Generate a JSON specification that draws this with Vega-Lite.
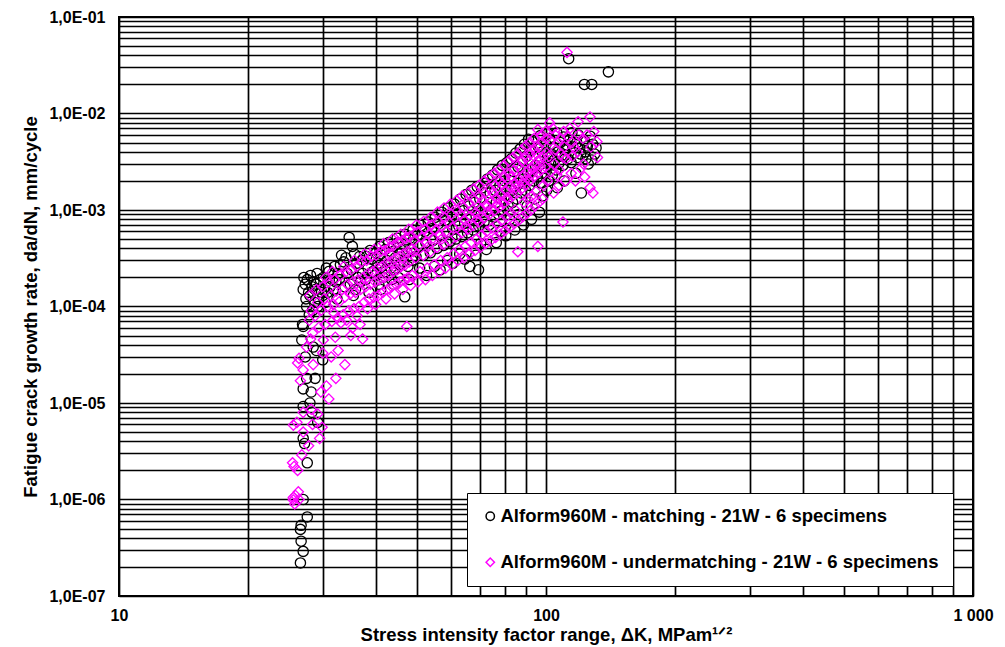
{
 "$schema": "https://vega.github.io/schema/vega-lite/v6.json",
 "width": 854,
 "height": 579,
 "autosize": "none",
 "padding": {"left": 119, "top": 17, "right": 32, "bottom": 51},
 "background": "white",
 "config": {
  "view": {"stroke": "black", "strokeWidth": 2},
  "font": "Liberation Sans",
  "axis": {
   "grid": true, "gridColor": "black", "gridOpacity": 1, "gridWidth": 1.7,
   "ticks": false, "tickSize": 0, "domain": false,
   "labelFont": "Liberation Sans", "labelFontSize": 16, "labelFontWeight": "bold", "labelColor": "black",
   "labelOverlap": false, "labelFlush": false,
   "titleFont": "Liberation Sans", "titleFontSize": 18.5, "titleFontWeight": "bold", "titleColor": "black"
  }
 },
 "data": {"values": [
{"s":"matching","k":26.6,"r":2.2e-7},{"s":"matching","k":27.0,"r":2.9e-7},{"s":"matching","k":26.7,"r":3.7e-7},{"s":"matching","k":26.6,"r":4.9e-7},{"s":"matching","k":26.7,"r":5.4e-7},{"s":"matching","k":27.6,"r":6.6e-7},{"s":"matching","k":27.0,"r":1.0e-6},{"s":"matching","k":27.6,"r":2.4e-6},{"s":"matching","k":27.2,"r":3.8e-6},{"s":"matching","k":27.0,"r":4.3e-6},{"s":"matching","k":29.2,"r":6.3e-6},{"s":"matching","k":28.3,"r":8.0e-6},{"s":"matching","k":27.0,"r":9.2e-6},{"s":"matching","k":28.0,"r":1.0e-5},{"s":"matching","k":28.2,"r":1.3e-5},{"s":"matching","k":27.0,"r":1.4e-5},{"s":"matching","k":28.8,"r":1.8e-5},{"s":"matching","k":27.5,"r":1.8e-5},{"s":"matching","k":30.0,"r":2.8e-5},{"s":"matching","k":27.3,"r":3.0e-5},{"s":"matching","k":29.0,"r":3.5e-5},{"s":"matching","k":28.5,"r":3.8e-5},{"s":"matching","k":26.8,"r":4.5e-5},{"s":"matching","k":27.0,"r":6.2e-5},{"s":"matching","k":26.9,"r":6.5e-5},
{"s":"matching","k":27.1,"r":2.0e-4},{"s":"matching","k":27.3,"r":1.7e-4},{"s":"matching","k":27.0,"r":1.5e-4},{"s":"matching","k":27.4,"r":1.2e-4},{"s":"matching","k":27.6,"r":1.9e-4},{"s":"matching","k":27.8,"r":1.4e-4},{"s":"matching","k":27.5,"r":1.0e-4},{"s":"matching","k":27.9,"r":8.2e-5},{"s":"matching","k":28.1,"r":2.1e-4},{"s":"matching","k":28.3,"r":1.6e-4},{"s":"matching","k":28.0,"r":1.3e-4},{"s":"matching","k":28.4,"r":9.1e-5},{"s":"matching","k":28.6,"r":1.8e-4},{"s":"matching","k":28.8,"r":1.5e-4},{"s":"matching","k":28.7,"r":1.1e-4},{"s":"matching","k":29.1,"r":2.2e-4},{"s":"matching","k":29.0,"r":1.7e-4},{"s":"matching","k":29.3,"r":1.2e-4},{"s":"matching","k":29.2,"r":1.0e-4},{"s":"matching","k":29.6,"r":1.9e-4},{"s":"matching","k":29.8,"r":1.4e-4},{"s":"matching","k":30.1,"r":2.0e-4},{"s":"matching","k":30.3,"r":1.5e-4},{"s":"matching","k":30.0,"r":1.3e-4},{"s":"matching","k":30.4,"r":1.1e-4},{"s":"matching","k":31.0,"r":2.3e-4},{"s":"matching","k":31.2,"r":1.6e-4},{"s":"matching","k":30.8,"r":1.4e-4},{"s":"matching","k":32.0,"r":2.6e-4},{"s":"matching","k":32.2,"r":1.8e-4},{"s":"matching","k":31.8,"r":1.5e-4},{"s":"matching","k":32.4,"r":1.2e-4},{"s":"matching","k":33.0,"r":2.7e-4},{"s":"matching","k":33.2,"r":3.4e-4},{"s":"matching","k":32.8,"r":1.9e-4},{"s":"matching","k":34.0,"r":3.2e-4},{"s":"matching","k":34.2,"r":2.2e-4},{"s":"matching","k":33.8,"r":1.6e-4},{"s":"matching","k":34.6,"r":5.2e-4},{"s":"matching","k":35.2,"r":4.2e-4},{"s":"matching","k":35.0,"r":2.4e-4},{"s":"matching","k":34.8,"r":1.7e-4},{"s":"matching","k":35.4,"r":1.3e-4},{"s":"matching","k":36.0,"r":2.8e-4},{"s":"matching","k":36.3,"r":2.0e-4},{"s":"matching","k":35.8,"r":1.5e-4},{"s":"matching","k":37.0,"r":3.0e-4},{"s":"matching","k":37.2,"r":2.2e-4},{"s":"matching","k":36.8,"r":1.8e-4},{"s":"matching","k":38.0,"r":3.3e-4},{"s":"matching","k":38.3,"r":2.5e-4},{"s":"matching","k":37.8,"r":1.9e-4},{"s":"matching","k":38.5,"r":1.4e-4},{"s":"matching","k":39.0,"r":3.1e-4},{"s":"matching","k":39.3,"r":2.3e-4},{"s":"matching","k":40.0,"r":3.6e-4},{"s":"matching","k":40.4,"r":2.8e-4},{"s":"matching","k":39.8,"r":2.1e-4},{"s":"matching","k":40.6,"r":1.7e-4},{"s":"matching","k":41.0,"r":3.5e-4},{"s":"matching","k":41.3,"r":2.6e-4},{"s":"matching","k":41.5,"r":2.0e-4},{"s":"matching","k":42.0,"r":3.9e-4},{"s":"matching","k":42.4,"r":3.0e-4},{"s":"matching","k":42.2,"r":2.3e-4},{"s":"matching","k":43.0,"r":3.4e-4},{"s":"matching","k":43.3,"r":2.5e-4},{"s":"matching","k":43.5,"r":1.9e-4},{"s":"matching","k":44.0,"r":4.2e-4},{"s":"matching","k":44.4,"r":3.2e-4},{"s":"matching","k":44.2,"r":2.4e-4},{"s":"matching","k":45.0,"r":4.6e-4},{"s":"matching","k":45.3,"r":3.5e-4},{"s":"matching","k":45.5,"r":2.7e-4},{"s":"matching","k":45.1,"r":2.0e-4},{"s":"matching","k":46.0,"r":3.8e-4},{"s":"matching","k":46.4,"r":2.9e-4},{"s":"matching","k":47.0,"r":4.9e-4},{"s":"matching","k":47.2,"r":3.6e-4},{"s":"matching","k":47.5,"r":2.6e-4},{"s":"matching","k":46.7,"r":1.26e-4},{"s":"matching","k":48.0,"r":5.1e-4},{"s":"matching","k":48.4,"r":3.9e-4},{"s":"matching","k":48.6,"r":3.0e-4},{"s":"matching","k":50.0,"r":5.5e-4},{"s":"matching","k":50.3,"r":4.2e-4},{"s":"matching","k":49.6,"r":3.3e-4},{"s":"matching","k":50.6,"r":2.5e-4},{"s":"matching","k":52.0,"r":6.0e-4},{"s":"matching","k":52.3,"r":4.6e-4},{"s":"matching","k":51.7,"r":3.4e-4},{"s":"matching","k":54.0,"r":6.4e-4},{"s":"matching","k":54.3,"r":4.8e-4},{"s":"matching","k":53.6,"r":3.6e-4},{"s":"matching","k":54.8,"r":2.6e-4},{"s":"matching","k":56.0,"r":7.2e-4},{"s":"matching","k":56.4,"r":5.4e-4},{"s":"matching","k":55.6,"r":4.0e-4},{"s":"matching","k":58.0,"r":7.8e-4},{"s":"matching","k":58.5,"r":5.8e-4},{"s":"matching","k":57.6,"r":4.3e-4},{"s":"matching","k":58.8,"r":3.0e-4},{"s":"matching","k":60.0,"r":8.5e-4},{"s":"matching","k":60.5,"r":6.3e-4},{"s":"matching","k":59.6,"r":4.7e-4},{"s":"matching","k":62.0,"r":9.0e-4},{"s":"matching","k":62.5,"r":6.8e-4},{"s":"matching","k":61.5,"r":5.0e-4},{"s":"matching","k":62.8,"r":3.5e-4},{"s":"matching","k":64.0,"r":9.8e-4},{"s":"matching","k":64.5,"r":7.3e-4},{"s":"matching","k":63.5,"r":5.3e-4},{"s":"matching","k":66.0,"r":1.1e-3},{"s":"matching","k":66.5,"r":8.0e-4},{"s":"matching","k":65.5,"r":5.8e-4},{"s":"matching","k":66.3,"r":2.6e-4},{"s":"matching","k":68.0,"r":1.2e-3},{"s":"matching","k":68.6,"r":8.6e-4},{"s":"matching","k":67.5,"r":6.2e-4},{"s":"matching","k":69.5,"r":2.4e-4},{"s":"matching","k":70.0,"r":1.3e-3},{"s":"matching","k":71.0,"r":1.7e-3},{"s":"matching","k":70.6,"r":9.4e-4},{"s":"matching","k":69.6,"r":6.8e-4},{"s":"matching","k":70.3,"r":4.5e-4},{"s":"matching","k":72.0,"r":1.9e-3},{"s":"matching","k":72.5,"r":1.1e-3},{"s":"matching","k":71.6,"r":7.5e-4},{"s":"matching","k":74.0,"r":1.5e-3},{"s":"matching","k":74.5,"r":1.0e-3},{"s":"matching","k":73.6,"r":7.0e-4},{"s":"matching","k":76.0,"r":1.6e-3},{"s":"matching","k":76.5,"r":1.2e-3},{"s":"matching","k":75.5,"r":8.4e-4},{"s":"matching","k":78.0,"r":1.8e-3},{"s":"matching","k":78.6,"r":1.3e-3},{"s":"matching","k":77.5,"r":9.0e-4},{"s":"matching","k":78.3,"r":6.0e-4},{"s":"matching","k":80.0,"r":2.0e-3},{"s":"matching","k":80.6,"r":1.4e-3},{"s":"matching","k":79.5,"r":1.0e-3},{"s":"matching","k":82.0,"r":2.2e-3},{"s":"matching","k":82.6,"r":1.6e-3},{"s":"matching","k":81.5,"r":1.1e-3},{"s":"matching","k":82.3,"r":8.0e-4},{"s":"matching","k":84.0,"r":2.5e-3},{"s":"matching","k":84.6,"r":1.7e-3},{"s":"matching","k":83.5,"r":1.2e-3},{"s":"matching","k":86.0,"r":2.8e-3},{"s":"matching","k":86.6,"r":1.9e-3},{"s":"matching","k":85.5,"r":1.3e-3},{"s":"matching","k":86.3,"r":9.0e-4},{"s":"matching","k":88.0,"r":3.2e-3},{"s":"matching","k":88.6,"r":2.1e-3},{"s":"matching","k":87.5,"r":1.5e-3},{"s":"matching","k":90.0,"r":3.6e-3},{"s":"matching","k":90.6,"r":2.4e-3},{"s":"matching","k":89.5,"r":1.6e-3},{"s":"matching","k":90.3,"r":1.1e-3},{"s":"matching","k":92.0,"r":4.2e-3},{"s":"matching","k":92.6,"r":2.6e-3},{"s":"matching","k":91.5,"r":1.8e-3},{"s":"matching","k":93.0,"r":5.1e-3},{"s":"matching","k":94.5,"r":2.9e-3},{"s":"matching","k":93.6,"r":2.0e-3},{"s":"matching","k":94.2,"r":1.3e-3},{"s":"matching","k":96.0,"r":4.5e-3},{"s":"matching","k":96.6,"r":3.2e-3},{"s":"matching","k":95.5,"r":2.2e-3},{"s":"matching","k":98.0,"r":4.0e-3},{"s":"matching","k":98.6,"r":2.7e-3},{"s":"matching","k":97.5,"r":1.9e-3},{"s":"matching","k":98.3,"r":1.4e-3},{"s":"matching","k":100.0,"r":4.8e-3},{"s":"matching","k":100.8,"r":3.5e-3},{"s":"matching","k":99.5,"r":2.4e-3},{"s":"matching","k":100.4,"r":1.6e-3},{"s":"matching","k":102.0,"r":5.5e-3},{"s":"matching","k":102.6,"r":3.0e-3},{"s":"matching","k":101.5,"r":2.0e-3},{"s":"matching","k":104.0,"r":4.5e-3},{"s":"matching","k":104.6,"r":3.3e-3},{"s":"matching","k":103.5,"r":2.3e-3},{"s":"matching","k":106.0,"r":6.3e-3},{"s":"matching","k":106.6,"r":4.0e-3},{"s":"matching","k":105.5,"r":2.6e-3},{"s":"matching","k":106.3,"r":1.7e-3},{"s":"matching","k":108.0,"r":5.0e-3},{"s":"matching","k":108.6,"r":3.6e-3},{"s":"matching","k":110.0,"r":5.7e-3},{"s":"matching","k":110.6,"r":4.2e-3},{"s":"matching","k":109.5,"r":2.9e-3},{"s":"matching","k":110.3,"r":2.0e-3},{"s":"matching","k":112.0,"r":4.7e-3},{"s":"matching","k":112.6,"r":3.4e-3},{"s":"matching","k":115.0,"r":6.3e-3},{"s":"matching","k":115.6,"r":4.5e-3},{"s":"matching","k":114.5,"r":3.1e-3},{"s":"matching","k":118.0,"r":5.0e-3},{"s":"matching","k":118.6,"r":3.5e-3},{"s":"matching","k":117.5,"r":2.4e-3},{"s":"matching","k":120.0,"r":4.4e-3},{"s":"matching","k":120.6,"r":3.8e-3},{"s":"matching","k":121.0,"r":1.5e-3},{"s":"matching","k":123.0,"r":5.2e-3},{"s":"matching","k":123.6,"r":4.0e-3},{"s":"matching","k":125.0,"r":4.6e-3},{"s":"matching","k":125.6,"r":3.0e-3},{"s":"matching","k":128.0,"r":3.3e-3},{"s":"matching","k":128.6,"r":4.8e-3},{"s":"matching","k":130.0,"r":3.8e-3},{"s":"matching","k":113.0,"r":3.7e-2},{"s":"matching","k":123.0,"r":2.0e-2},{"s":"matching","k":128.0,"r":2.0e-2},{"s":"matching","k":140.0,"r":2.7e-2},
{"s":"matching","k":30.6,"r":2.5e-4},{"s":"matching","k":31.6,"r":1.9e-4},{"s":"matching","k":32.6,"r":2.2e-4},{"s":"matching","k":33.6,"r":2.9e-4},{"s":"matching","k":35.6,"r":3.5e-4},{"s":"matching","k":36.6,"r":3.3e-4},{"s":"matching","k":38.7,"r":3.8e-4},{"s":"matching","k":40.8,"r":4.2e-4},{"s":"matching","k":42.8,"r":4.6e-4},{"s":"matching","k":44.8,"r":5.1e-4},{"s":"matching","k":46.8,"r":5.6e-4},{"s":"matching","k":48.8,"r":6.2e-4},{"s":"matching","k":51.0,"r":6.9e-4},{"s":"matching","k":53.0,"r":7.5e-4},{"s":"matching","k":55.0,"r":8.4e-4},{"s":"matching","k":57.0,"r":9.5e-4},{"s":"matching","k":59.0,"r":1.05e-3},{"s":"matching","k":61.0,"r":1.15e-3},{"s":"matching","k":63.0,"r":1.3e-3},{"s":"matching","k":65.0,"r":1.45e-3},{"s":"matching","k":67.0,"r":1.6e-3},{"s":"matching","k":69.0,"r":1.75e-3},{"s":"matching","k":73.0,"r":2.1e-3},{"s":"matching","k":75.0,"r":2.3e-3},{"s":"matching","k":77.0,"r":2.6e-3},{"s":"matching","k":79.0,"r":2.9e-3},{"s":"matching","k":81.0,"r":3.1e-3},{"s":"matching","k":83.0,"r":3.4e-3},{"s":"matching","k":85.0,"r":3.9e-3},{"s":"matching","k":87.0,"r":4.3e-3},{"s":"matching","k":89.0,"r":4.8e-3},{"s":"matching","k":91.0,"r":5.4e-3},{"s":"matching","k":97.0,"r":5.9e-3},{"s":"matching","k":101.0,"r":6.2e-3},{"s":"matching","k":103.0,"r":3.8e-3},{"s":"matching","k":107.0,"r":3.0e-3},{"s":"matching","k":111.0,"r":3.7e-3},{"s":"matching","k":113.5,"r":5.3e-3},{"s":"matching","k":116.5,"r":3.9e-3},{"s":"matching","k":119.0,"r":6.0e-3},{"s":"matching","k":124.0,"r":3.4e-3},{"s":"matching","k":127.0,"r":5.8e-3},{"s":"matching","k":131.0,"r":4.4e-3},{"s":"matching","k":52.5,"r":2.1e-4},{"s":"matching","k":56.5,"r":2.4e-4},{"s":"matching","k":60.5,"r":2.8e-4},{"s":"matching","k":64.5,"r":3.1e-4},{"s":"matching","k":68.5,"r":3.4e-4},{"s":"matching","k":72.5,"r":3.9e-4},{"s":"matching","k":76.5,"r":4.6e-4},{"s":"matching","k":80.5,"r":5.4e-4},{"s":"matching","k":84.5,"r":6.2e-4},{"s":"matching","k":88.5,"r":7.0e-4},{"s":"matching","k":92.5,"r":8.0e-4},{"s":"matching","k":96.5,"r":9.5e-4},{"s":"matching","k":41.0,"r":1.5e-4},{"s":"matching","k":44.0,"r":1.7e-4},{"s":"matching","k":47.8,"r":1.9e-4},
{"s":"undermatching","k":25.6,"r":9.9e-7},{"s":"undermatching","k":25.9,"r":1.1e-6},{"s":"undermatching","k":25.8,"r":9.0e-7},{"s":"undermatching","k":26.3,"r":1.2e-6},{"s":"undermatching","k":26.4,"r":1.0e-6},{"s":"undermatching","k":25.6,"r":1.05e-6},{"s":"undermatching","k":25.5,"r":2.4e-6},{"s":"undermatching","k":26.2,"r":2.0e-6},{"s":"undermatching","k":26.8,"r":2.9e-6},{"s":"undermatching","k":25.7,"r":2.2e-6},{"s":"undermatching","k":25.6,"r":5.9e-6},{"s":"undermatching","k":27.0,"r":5.0e-6},{"s":"undermatching","k":27.8,"r":3.6e-6},{"s":"undermatching","k":26.1,"r":6.3e-6},{"s":"undermatching","k":27.0,"r":8.0e-6},{"s":"undermatching","k":28.2,"r":8.6e-6},{"s":"undermatching","k":29.2,"r":7.7e-6},{"s":"undermatching","k":28.4,"r":6.0e-6},{"s":"undermatching","k":29.9,"r":5.6e-6},{"s":"undermatching","k":29.5,"r":4.3e-6},{"s":"undermatching","k":26.2,"r":2.6e-5},{"s":"undermatching","k":27.0,"r":2.2e-5},{"s":"undermatching","k":28.5,"r":2.5e-5},{"s":"undermatching","k":31.4,"r":3.0e-5},{"s":"undermatching","k":32.2,"r":1.8e-5},{"s":"undermatching","k":33.8,"r":2.5e-5},{"s":"undermatching","k":30.6,"r":1.5e-5},{"s":"undermatching","k":29.7,"r":1.3e-5},{"s":"undermatching","k":31.0,"r":1.1e-5},{"s":"undermatching","k":26.6,"r":1.7e-5},{"s":"undermatching","k":27.5,"r":3.8e-5},{"s":"undermatching","k":28.1,"r":4.6e-5},{"s":"undermatching","k":26.4,"r":2.9e-5},{"s":"undermatching","k":30.0,"r":3.3e-5},{"s":"undermatching","k":32.6,"r":3.5e-5},
{"s":"undermatching","k":28.0,"r":1.3e-4},{"s":"undermatching","k":28.2,"r":9.0e-5},{"s":"undermatching","k":27.9,"r":7.2e-5},{"s":"undermatching","k":28.4,"r":5.3e-5},{"s":"undermatching","k":29.0,"r":1.5e-4},{"s":"undermatching","k":29.2,"r":1.1e-4},{"s":"undermatching","k":28.8,"r":8.0e-5},{"s":"undermatching","k":29.4,"r":6.1e-5},{"s":"undermatching","k":30.0,"r":1.6e-4},{"s":"undermatching","k":30.2,"r":1.2e-4},{"s":"undermatching","k":29.8,"r":9.2e-5},{"s":"undermatching","k":30.4,"r":6.5e-5},{"s":"undermatching","k":30.1,"r":4.5e-5},{"s":"undermatching","k":31.0,"r":1.8e-4},{"s":"undermatching","k":31.3,"r":1.3e-4},{"s":"undermatching","k":30.8,"r":1.0e-4},{"s":"undermatching","k":31.5,"r":7.0e-5},{"s":"undermatching","k":32.0,"r":1.9e-4},{"s":"undermatching","k":32.3,"r":1.45e-4},{"s":"undermatching","k":31.8,"r":1.05e-4},{"s":"undermatching","k":32.5,"r":7.6e-5},{"s":"undermatching","k":32.1,"r":4.8e-5},{"s":"undermatching","k":33.0,"r":2.1e-4},{"s":"undermatching","k":33.3,"r":1.5e-4},{"s":"undermatching","k":32.8,"r":1.12e-4},{"s":"undermatching","k":33.5,"r":8.2e-5},{"s":"undermatching","k":34.0,"r":2.3e-4},{"s":"undermatching","k":34.3,"r":1.7e-4},{"s":"undermatching","k":33.8,"r":1.25e-4},{"s":"undermatching","k":34.5,"r":9.0e-5},{"s":"undermatching","k":35.0,"r":2.4e-4},{"s":"undermatching","k":35.3,"r":1.8e-4},{"s":"undermatching","k":34.8,"r":1.35e-4},{"s":"undermatching","k":35.5,"r":9.5e-5},{"s":"undermatching","k":35.2,"r":6.0e-5},{"s":"undermatching","k":36.0,"r":2.6e-4},{"s":"undermatching","k":36.3,"r":1.9e-4},{"s":"undermatching","k":35.8,"r":1.4e-4},{"s":"undermatching","k":36.5,"r":1.0e-4},{"s":"undermatching","k":37.0,"r":2.9e-4},{"s":"undermatching","k":37.3,"r":2.0e-4},{"s":"undermatching","k":36.8,"r":1.5e-4},{"s":"undermatching","k":37.5,"r":1.1e-4},{"s":"undermatching","k":37.2,"r":4.6e-5},{"s":"undermatching","k":38.0,"r":3.0e-4},{"s":"undermatching","k":38.3,"r":2.2e-4},{"s":"undermatching","k":37.8,"r":1.6e-4},{"s":"undermatching","k":38.5,"r":1.2e-4},{"s":"undermatching","k":39.0,"r":3.3e-4},{"s":"undermatching","k":39.3,"r":2.3e-4},{"s":"undermatching","k":38.8,"r":1.7e-4},{"s":"undermatching","k":39.5,"r":1.25e-4},{"s":"undermatching","k":40.0,"r":3.4e-4},{"s":"undermatching","k":40.3,"r":2.5e-4},{"s":"undermatching","k":39.8,"r":1.8e-4},{"s":"undermatching","k":40.5,"r":1.3e-4},{"s":"undermatching","k":41.0,"r":3.7e-4},{"s":"undermatching","k":41.3,"r":2.6e-4},{"s":"undermatching","k":40.8,"r":1.9e-4},{"s":"undermatching","k":41.5,"r":1.4e-4},{"s":"undermatching","k":42.0,"r":3.8e-4},{"s":"undermatching","k":42.3,"r":2.8e-4},{"s":"undermatching","k":41.8,"r":2.0e-4},{"s":"undermatching","k":42.5,"r":1.5e-4},{"s":"undermatching","k":43.0,"r":4.1e-4},{"s":"undermatching","k":43.3,"r":2.9e-4},{"s":"undermatching","k":42.8,"r":2.1e-4},{"s":"undermatching","k":43.5,"r":1.6e-4},{"s":"undermatching","k":44.0,"r":4.3e-4},{"s":"undermatching","k":44.3,"r":3.1e-4},{"s":"undermatching","k":43.8,"r":2.3e-4},{"s":"undermatching","k":44.5,"r":1.7e-4},{"s":"undermatching","k":45.0,"r":4.6e-4},{"s":"undermatching","k":45.3,"r":3.3e-4},{"s":"undermatching","k":44.8,"r":2.4e-4},{"s":"undermatching","k":45.5,"r":1.8e-4},{"s":"undermatching","k":46.0,"r":4.8e-4},{"s":"undermatching","k":46.3,"r":3.5e-4},{"s":"undermatching","k":45.8,"r":2.6e-4},{"s":"undermatching","k":46.5,"r":1.9e-4},{"s":"undermatching","k":47.0,"r":5.1e-4},{"s":"undermatching","k":47.3,"r":3.7e-4},{"s":"undermatching","k":46.8,"r":2.7e-4},{"s":"undermatching","k":47.5,"r":2.0e-4},{"s":"undermatching","k":47.2,"r":6.2e-5},{"s":"undermatching","k":48.0,"r":5.3e-4},{"s":"undermatching","k":48.4,"r":3.9e-4},{"s":"undermatching","k":47.8,"r":2.9e-4},{"s":"undermatching","k":48.6,"r":2.1e-4},{"s":"undermatching","k":50.0,"r":5.9e-4},{"s":"undermatching","k":50.4,"r":4.3e-4},{"s":"undermatching","k":49.6,"r":3.2e-4},{"s":"undermatching","k":50.7,"r":2.3e-4},{"s":"undermatching","k":52.0,"r":6.3e-4},{"s":"undermatching","k":52.4,"r":4.7e-4},{"s":"undermatching","k":51.6,"r":3.4e-4},{"s":"undermatching","k":52.7,"r":2.5e-4},{"s":"undermatching","k":54.0,"r":7.0e-4},{"s":"undermatching","k":54.4,"r":5.1e-4},{"s":"undermatching","k":53.6,"r":3.7e-4},{"s":"undermatching","k":54.7,"r":2.7e-4},{"s":"undermatching","k":56.0,"r":7.5e-4},{"s":"undermatching","k":56.4,"r":5.6e-4},{"s":"undermatching","k":55.6,"r":4.1e-4},{"s":"undermatching","k":56.7,"r":3.0e-4},{"s":"undermatching","k":58.0,"r":8.3e-4},{"s":"undermatching","k":58.4,"r":6.0e-4},{"s":"undermatching","k":57.6,"r":4.4e-4},{"s":"undermatching","k":58.7,"r":3.2e-4},{"s":"undermatching","k":60.0,"r":9.0e-4},{"s":"undermatching","k":60.4,"r":6.6e-4},{"s":"undermatching","k":59.6,"r":4.8e-4},{"s":"undermatching","k":60.7,"r":3.5e-4},{"s":"undermatching","k":62.0,"r":9.9e-4},{"s":"undermatching","k":62.4,"r":7.2e-4},{"s":"undermatching","k":61.6,"r":5.3e-4},{"s":"undermatching","k":62.7,"r":3.9e-4},{"s":"undermatching","k":64.0,"r":1.07e-3},{"s":"undermatching","k":64.4,"r":7.9e-4},{"s":"undermatching","k":63.6,"r":5.8e-4},{"s":"undermatching","k":64.7,"r":4.2e-4},{"s":"undermatching","k":66.0,"r":1.18e-3},{"s":"undermatching","k":66.4,"r":8.6e-4},{"s":"undermatching","k":65.6,"r":6.3e-4},{"s":"undermatching","k":66.7,"r":4.6e-4},{"s":"undermatching","k":68.0,"r":1.27e-3},{"s":"undermatching","k":68.4,"r":9.4e-4},{"s":"undermatching","k":67.6,"r":6.9e-4},{"s":"undermatching","k":68.7,"r":5.0e-4},{"s":"undermatching","k":70.0,"r":1.4e-3},{"s":"undermatching","k":70.4,"r":1.03e-3},{"s":"undermatching","k":69.6,"r":7.5e-4},{"s":"undermatching","k":70.7,"r":5.5e-4},{"s":"undermatching","k":72.0,"r":1.5e-3},{"s":"undermatching","k":72.4,"r":1.12e-3},{"s":"undermatching","k":71.6,"r":8.2e-4},{"s":"undermatching","k":72.7,"r":6.0e-4},{"s":"undermatching","k":74.0,"r":1.66e-3},{"s":"undermatching","k":74.4,"r":1.22e-3},{"s":"undermatching","k":73.6,"r":9.0e-4},{"s":"undermatching","k":74.7,"r":6.5e-4},{"s":"undermatching","k":76.0,"r":1.8e-3},{"s":"undermatching","k":76.4,"r":1.33e-3},{"s":"undermatching","k":75.6,"r":9.8e-4},{"s":"undermatching","k":76.7,"r":7.1e-4},{"s":"undermatching","k":78.0,"r":2.0e-3},{"s":"undermatching","k":78.4,"r":1.45e-3},{"s":"undermatching","k":77.6,"r":1.07e-3},{"s":"undermatching","k":78.7,"r":7.8e-4},{"s":"undermatching","k":80.0,"r":2.2e-3},{"s":"undermatching","k":80.4,"r":1.6e-3},{"s":"undermatching","k":79.6,"r":1.17e-3},{"s":"undermatching","k":80.7,"r":8.5e-4},{"s":"undermatching","k":82.0,"r":2.4e-3},{"s":"undermatching","k":82.4,"r":1.75e-3},{"s":"undermatching","k":81.6,"r":1.28e-3},{"s":"undermatching","k":82.7,"r":9.3e-4},{"s":"undermatching","k":84.0,"r":2.6e-3},{"s":"undermatching","k":84.4,"r":1.9e-3},{"s":"undermatching","k":83.6,"r":1.4e-3},{"s":"undermatching","k":84.7,"r":1.0e-3},{"s":"undermatching","k":86.0,"r":2.9e-3},{"s":"undermatching","k":86.4,"r":2.1e-3},{"s":"undermatching","k":85.6,"r":1.5e-3},{"s":"undermatching","k":85.9,"r":3.7e-4},{"s":"undermatching","k":88.0,"r":3.2e-3},{"s":"undermatching","k":88.4,"r":2.3e-3},{"s":"undermatching","k":87.6,"r":1.65e-3},{"s":"undermatching","k":88.7,"r":1.2e-3},{"s":"undermatching","k":90.0,"r":3.5e-3},{"s":"undermatching","k":90.4,"r":2.5e-3},{"s":"undermatching","k":89.6,"r":1.8e-3},{"s":"undermatching","k":90.7,"r":1.3e-3},{"s":"undermatching","k":92.0,"r":3.8e-3},{"s":"undermatching","k":92.4,"r":2.75e-3},{"s":"undermatching","k":91.6,"r":2.0e-3},{"s":"undermatching","k":92.7,"r":1.4e-3},{"s":"undermatching","k":94.0,"r":4.2e-3},{"s":"undermatching","k":94.4,"r":3.0e-3},{"s":"undermatching","k":93.6,"r":2.2e-3},{"s":"undermatching","k":94.7,"r":1.55e-3},{"s":"undermatching","k":95.7,"r":6.8e-3},{"s":"undermatching","k":96.0,"r":4.5e-3},{"s":"undermatching","k":96.4,"r":3.3e-3},{"s":"undermatching","k":95.6,"r":2.4e-3},{"s":"undermatching","k":95.7,"r":4.2e-4},{"s":"undermatching","k":98.0,"r":5.0e-3},{"s":"undermatching","k":98.4,"r":3.6e-3},{"s":"undermatching","k":97.6,"r":2.6e-3},{"s":"undermatching","k":98.7,"r":1.8e-3},{"s":"undermatching","k":100.0,"r":5.5e-3},{"s":"undermatching","k":100.4,"r":3.9e-3},{"s":"undermatching","k":99.6,"r":2.8e-3},{"s":"undermatching","k":100.7,"r":2.0e-3},{"s":"undermatching","k":102.0,"r":8.0e-3},{"s":"undermatching","k":102.4,"r":5.2e-3},{"s":"undermatching","k":101.6,"r":3.6e-3},{"s":"undermatching","k":102.7,"r":2.5e-3},{"s":"undermatching","k":105.0,"r":6.0e-3},{"s":"undermatching","k":105.4,"r":4.2e-3},{"s":"undermatching","k":104.6,"r":3.0e-3},{"s":"undermatching","k":108.0,"r":5.5e-3},{"s":"undermatching","k":108.4,"r":3.8e-3},{"s":"undermatching","k":107.6,"r":2.6e-3},{"s":"undermatching","k":109.6,"r":7.5e-4},{"s":"undermatching","k":110.0,"r":6.5e-3},{"s":"undermatching","k":110.4,"r":4.5e-3},{"s":"undermatching","k":112.0,"r":4.3e-2},{"s":"undermatching","k":112.4,"r":5.8e-3},{"s":"undermatching","k":111.6,"r":3.4e-3},{"s":"undermatching","k":115.0,"r":5.0e-3},{"s":"undermatching","k":115.4,"r":3.6e-3},{"s":"undermatching","k":114.6,"r":2.4e-3},{"s":"undermatching","k":118.9,"r":8.2e-3},{"s":"undermatching","k":119.4,"r":6.0e-3},{"s":"undermatching","k":118.6,"r":4.0e-3},{"s":"undermatching","k":122.0,"r":5.5e-3},{"s":"undermatching","k":122.4,"r":3.0e-3},{"s":"undermatching","k":126.8,"r":9.2e-3},{"s":"undermatching","k":126.8,"r":1.7e-3},{"s":"undermatching","k":127.4,"r":4.5e-3},{"s":"undermatching","k":128.8,"r":1.5e-3},{"s":"undermatching","k":129.4,"r":6.5e-3},{"s":"undermatching","k":131.6,"r":5.1e-3},{"s":"undermatching","k":132.0,"r":3.5e-3},
{"s":"undermatching","k":30.5,"r":2.0e-4},{"s":"undermatching","k":31.6,"r":2.3e-4},{"s":"undermatching","k":33.6,"r":2.6e-4},{"s":"undermatching","k":35.6,"r":3.0e-4},{"s":"undermatching","k":37.6,"r":3.5e-4},{"s":"undermatching","k":39.6,"r":3.9e-4},{"s":"undermatching","k":31.9,"r":8.5e-5},{"s":"undermatching","k":33.1,"r":6.8e-5},{"s":"undermatching","k":34.1,"r":7.2e-5},{"s":"undermatching","k":36.1,"r":8.0e-5},{"s":"undermatching","k":38.2,"r":9.5e-5},{"s":"undermatching","k":39.9,"r":1.05e-4},{"s":"undermatching","k":36.7,"r":6.5e-5},{"s":"undermatching","k":34.9,"r":5.0e-5},
{"s":"undermatching","k":41.7,"r":4.5e-4},{"s":"undermatching","k":43.7,"r":5.0e-4},{"s":"undermatching","k":45.7,"r":5.6e-4},{"s":"undermatching","k":47.7,"r":6.3e-4},{"s":"undermatching","k":49.7,"r":7.0e-4},{"s":"undermatching","k":51.7,"r":7.6e-4},{"s":"undermatching","k":53.7,"r":8.4e-4},{"s":"undermatching","k":55.7,"r":9.5e-4},{"s":"undermatching","k":57.7,"r":1.05e-3},{"s":"undermatching","k":59.7,"r":1.15e-3},{"s":"undermatching","k":42.2,"r":1.2e-4},{"s":"undermatching","k":44.2,"r":1.35e-4},{"s":"undermatching","k":46.2,"r":1.5e-4},{"s":"undermatching","k":48.2,"r":1.65e-4},{"s":"undermatching","k":50.2,"r":1.8e-4},{"s":"undermatching","k":52.2,"r":1.9e-4},{"s":"undermatching","k":54.2,"r":2.1e-4},{"s":"undermatching","k":56.2,"r":2.3e-4},{"s":"undermatching","k":58.2,"r":2.5e-4},{"s":"undermatching","k":60.2,"r":2.7e-4},{"s":"undermatching","k":43.1,"r":3.5e-4},{"s":"undermatching","k":49.1,"r":4.8e-4},{"s":"undermatching","k":51.1,"r":5.2e-4},{"s":"undermatching","k":53.1,"r":5.6e-4},{"s":"undermatching","k":55.1,"r":6.2e-4},{"s":"undermatching","k":57.1,"r":6.8e-4},{"s":"undermatching","k":59.1,"r":7.5e-4},{"s":"undermatching","k":49.0,"r":3.7e-4},{"s":"undermatching","k":53.0,"r":4.2e-4},{"s":"undermatching","k":57.0,"r":5.0e-4},
{"s":"undermatching","k":61.7,"r":1.25e-3},{"s":"undermatching","k":63.7,"r":1.4e-3},{"s":"undermatching","k":65.7,"r":1.5e-3},{"s":"undermatching","k":67.7,"r":1.65e-3},{"s":"undermatching","k":69.7,"r":1.8e-3},{"s":"undermatching","k":71.7,"r":2.0e-3},{"s":"undermatching","k":73.7,"r":2.2e-3},{"s":"undermatching","k":75.7,"r":2.4e-3},{"s":"undermatching","k":77.7,"r":2.6e-3},{"s":"undermatching","k":79.7,"r":2.9e-3},{"s":"undermatching","k":81.7,"r":3.2e-3},{"s":"undermatching","k":83.7,"r":3.5e-3},{"s":"undermatching","k":85.7,"r":3.8e-3},{"s":"undermatching","k":87.7,"r":4.2e-3},{"s":"undermatching","k":89.7,"r":4.6e-3},{"s":"undermatching","k":91.7,"r":5.0e-3},{"s":"undermatching","k":93.7,"r":5.5e-3},{"s":"undermatching","k":97.7,"r":6.0e-3},{"s":"undermatching","k":99.7,"r":6.5e-3},{"s":"undermatching","k":62.2,"r":3.0e-4},{"s":"undermatching","k":64.2,"r":3.2e-4},{"s":"undermatching","k":66.2,"r":3.5e-4},{"s":"undermatching","k":68.2,"r":3.8e-4},{"s":"undermatching","k":70.2,"r":4.1e-4},{"s":"undermatching","k":72.2,"r":4.5e-4},{"s":"undermatching","k":74.2,"r":4.8e-4},{"s":"undermatching","k":76.2,"r":5.2e-4},{"s":"undermatching","k":78.2,"r":5.6e-4},{"s":"undermatching","k":80.2,"r":6.1e-4},{"s":"undermatching","k":82.2,"r":6.6e-4},{"s":"undermatching","k":84.2,"r":7.2e-4},{"s":"undermatching","k":86.2,"r":7.8e-4},{"s":"undermatching","k":88.2,"r":8.5e-4},{"s":"undermatching","k":90.2,"r":9.2e-4},{"s":"undermatching","k":92.2,"r":1.0e-3},{"s":"undermatching","k":94.2,"r":1.1e-3},{"s":"undermatching","k":96.2,"r":1.2e-3},{"s":"undermatching","k":98.2,"r":1.3e-3},{"s":"undermatching","k":63.1,"r":9.0e-4},{"s":"undermatching","k":67.1,"r":1.0e-3},{"s":"undermatching","k":71.1,"r":1.25e-3},{"s":"undermatching","k":75.1,"r":1.5e-3},{"s":"undermatching","k":79.1,"r":1.85e-3},{"s":"undermatching","k":83.1,"r":2.2e-3},{"s":"undermatching","k":87.1,"r":2.7e-3},{"s":"undermatching","k":91.1,"r":3.2e-3},{"s":"undermatching","k":95.1,"r":3.8e-3},{"s":"undermatching","k":65.0,"r":6.8e-4},{"s":"undermatching","k":69.0,"r":8.0e-4},{"s":"undermatching","k":73.0,"r":9.6e-4},{"s":"undermatching","k":77.0,"r":1.15e-3},{"s":"undermatching","k":81.0,"r":1.35e-3},{"s":"undermatching","k":85.0,"r":1.7e-3},{"s":"undermatching","k":89.0,"r":2.0e-3},{"s":"undermatching","k":93.0,"r":2.4e-3},{"s":"undermatching","k":97.0,"r":2.9e-3},
{"s":"undermatching","k":103.7,"r":7.0e-3},{"s":"undermatching","k":106.7,"r":5.0e-3},{"s":"undermatching","k":109.7,"r":3.5e-3},{"s":"undermatching","k":113.7,"r":7.0e-3},{"s":"undermatching","k":116.7,"r":4.4e-3},{"s":"undermatching","k":120.7,"r":2.7e-3},{"s":"undermatching","k":124.7,"r":6.0e-3},{"s":"undermatching","k":104.2,"r":1.5e-3},{"s":"undermatching","k":107.2,"r":1.8e-3},{"s":"undermatching","k":111.2,"r":2.0e-3},{"s":"undermatching","k":117.2,"r":2.0e-3},{"s":"undermatching","k":123.2,"r":2.2e-3},{"s":"undermatching","k":106.0,"r":2.3e-3}
 ]},
 "mark": {"type": "point", "filled": false, "strokeWidth": 1.3, "opacity": 1, "size": 105},
 "encoding": {
  "x": {
   "field": "k", "type": "quantitative",
   "scale": {"type": "log", "domain": [10, 1000], "nice": false},
   "axis": {
    "title": "Stress intensity factor range, ΔK, MPam¹ᐟ²",
    "values": [10,20,30,40,50,60,70,80,90,100,200,300,400,500,600,700,800,900,1000],
    "labelExpr": "datum.value == 10 ? '10' : (datum.value == 100 ? '100' : (datum.value == 1000 ? '1 000' : ''))",
    "labelPadding": 11, "titlePadding": 2
   }
  },
  "y": {
   "field": "r", "type": "quantitative",
   "scale": {"type": "log", "domain": [1e-7, 0.1], "nice": false},
   "axis": {
    "title": "Fatigue crack growth rate, da/dN, mm/cycle",
    "values": [1e-7,2e-7,3e-7,4e-7,5e-7,6e-7,7e-7,8e-7,9e-7,1e-6,2e-6,3e-6,4e-6,5e-6,6e-6,7e-6,8e-6,9e-6,1e-5,2e-5,3e-5,4e-5,5e-5,6e-5,7e-5,8e-5,9e-5,1e-4,2e-4,3e-4,4e-4,5e-4,6e-4,7e-4,8e-4,9e-4,1e-3,2e-3,3e-3,4e-3,5e-3,6e-3,7e-3,8e-3,9e-3,1e-2,2e-2,3e-2,4e-2,5e-2,6e-2,7e-2,8e-2,9e-2,0.1],
    "labelExpr": "abs(log(datum.value)/LN10 - round(log(datum.value)/LN10)) < 0.01 ? '1,0E-0' + (-round(log(datum.value)/LN10)) : ''",
    "labelPadding": 14, "titlePadding": 8
   }
  },
  "color": {
   "field": "s", "type": "nominal",
   "scale": {"domain": ["matching", "undermatching"], "range": ["black", "#ff00ff"]},
   "legend": {
    "orient": "none", "legendX": 348, "legendY": 476, "title": null,
    "fillColor": "white", "strokeColor": "black", "padding": 14, "rowPadding": 27,
    "labelFont": "Liberation Sans", "labelFontSize": 18.5, "labelFontWeight": "bold", "labelColor": "black",
    "labelLimit": 0, "labelOffset": 1, "symbolSize": 70, "symbolStrokeWidth": 1.5,
    "labelExpr": "'Alform960M - ' + datum.label + ' - 21W - 6 specimens'"
   }
  },
  "shape": {
   "field": "s", "type": "nominal",
   "scale": {"domain": ["matching", "undermatching"], "range": ["circle", "diamond"]}
  }
 }
}
